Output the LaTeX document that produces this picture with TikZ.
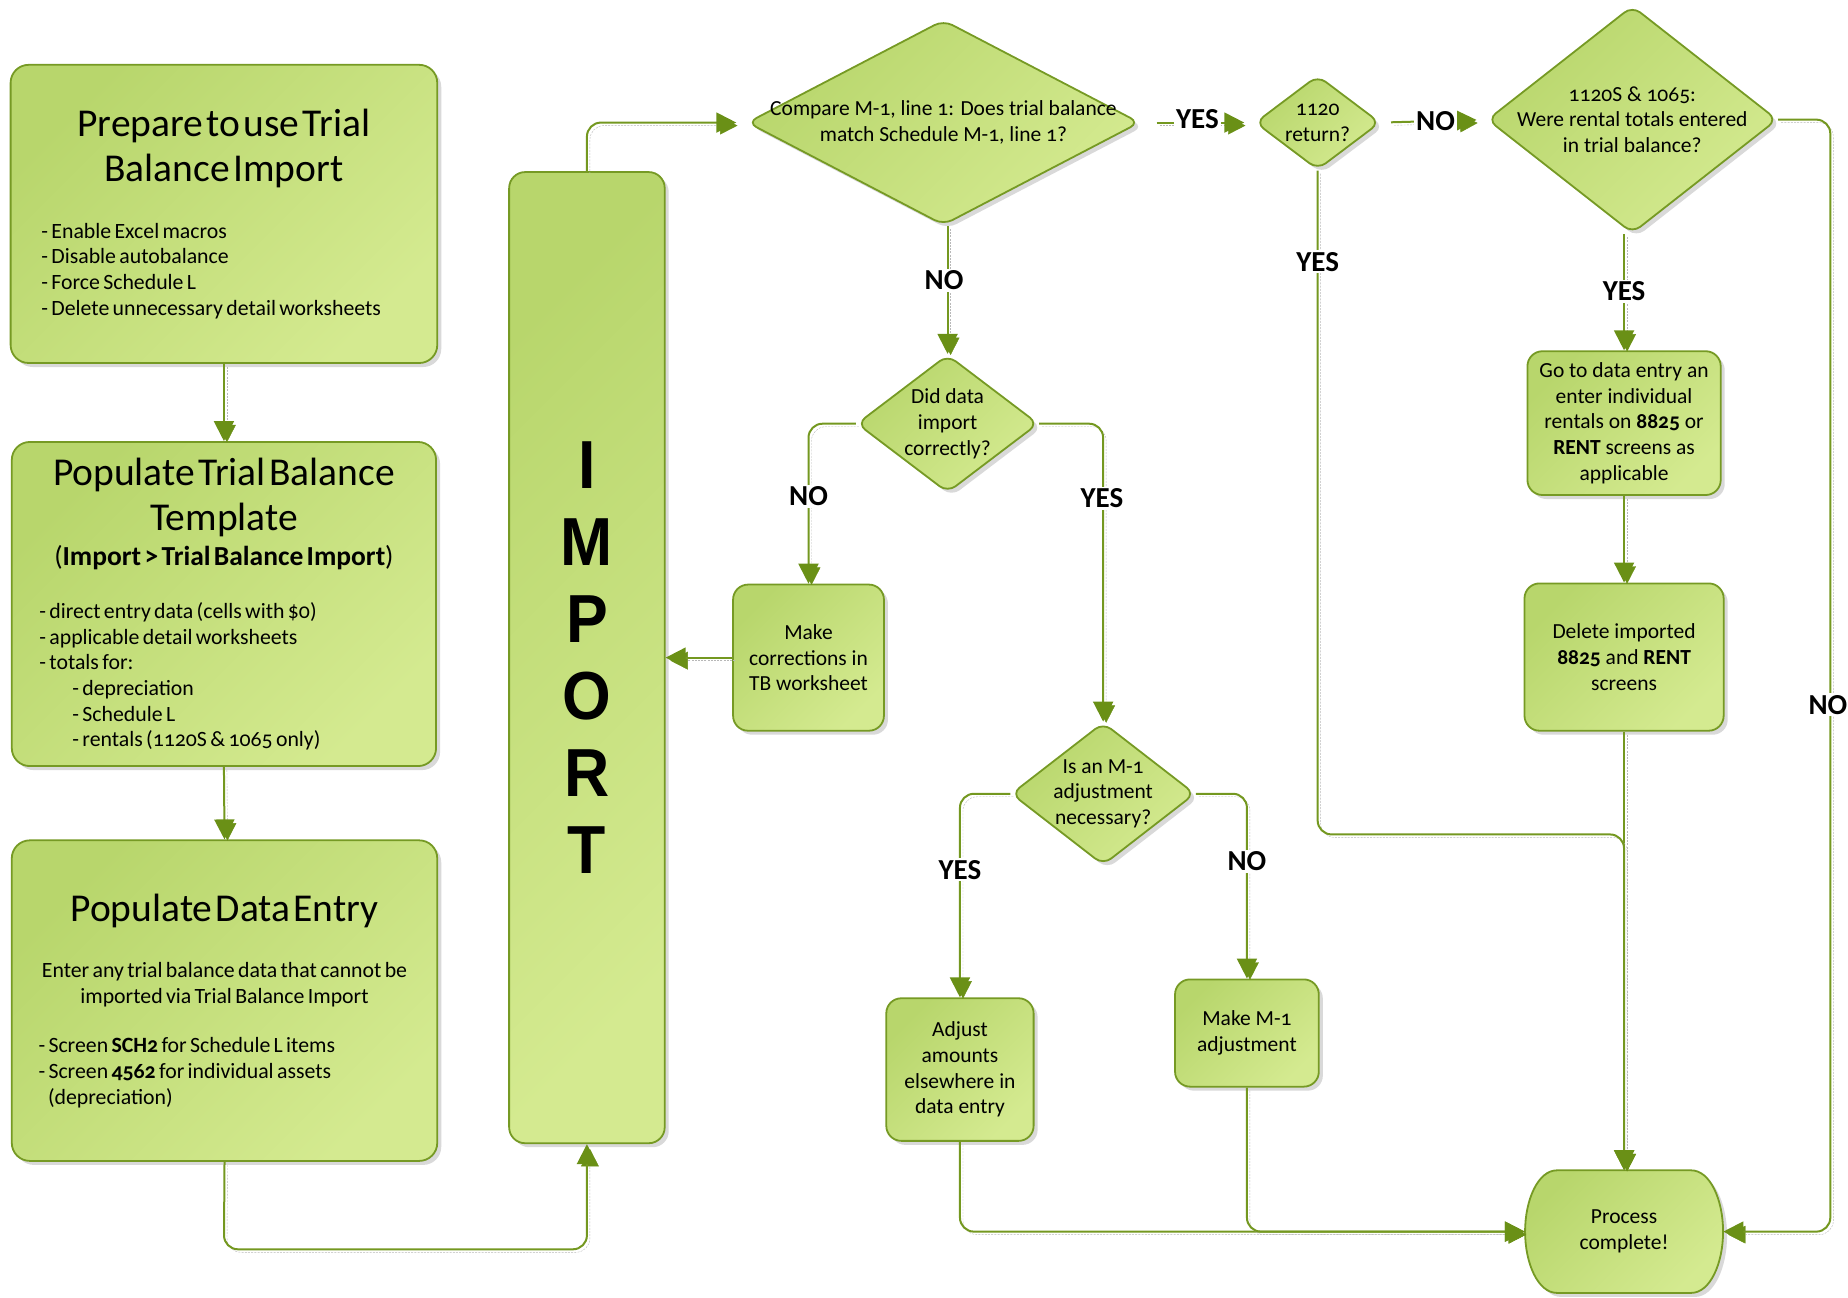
\documentclass[tikz,border=0pt]{standalone}
\usepackage{fontspec}
\setmainfont{Carlito}[Numbers=OldStyle]
\newfontfamily\impfam{Liberation Sans}[FakeStretch=0.92]
\usetikzlibrary{arrows.meta,shapes.geometric,shadows}
\definecolor{gA}{RGB}{184,214,108}
\definecolor{gB}{RGB}{212,234,144}
\definecolor{bd}{RGB}{118,154,36}
\definecolor{ln}{RGB}{116,152,32}
\definecolor{ar}{RGB}{106,144,22}
\newcommand\ttlf{\fontsize{39.5}{45}\selectfont}
\newcommand\bulf{\fontsize{21.8}{25.6}\selectfont}
\newcommand\subf{\fontsize{27.5}{30}\selectfont}
\newcommand\dtxf{\fontsize{21.5}{25.6}\selectfont}
\newcommand\lblf{\fontsize{29}{32}\selectfont\bfseries}
\newcommand\impf{\impfam\bfseries\fontsize{68}{77}\selectfont}
\tikzset{
  sz/.style 2 args={minimum width=#1*1.1786pt, minimum height=#2*1.1786pt},
  gshade/.style={top color=gA, bottom color=gB, shading angle=45},
  shad/.style={drop shadow={shadow xshift=4pt, shadow yshift=-4pt, fill=black!60, opacity=0.25}},
  bigbox/.style={rectangle, rounded corners=18pt, draw=bd, line width=1.8pt, gshade, shad, inner sep=0pt, align=left},
  smbox/.style={rectangle, rounded corners=15pt, draw=bd, line width=1.8pt, gshade, shad, align=center, font=\dtxf, inner sep=0pt},
  dia/.style={diamond, rounded corners=10pt, draw=bd, line width=1.8pt, gshade, shad, inner sep=0pt},
  diatext/.style={align=center, font=\dtxf, inner sep=0pt},
  pcshape/.style={draw=bd, line width=1.8pt, gshade, shad},
  pctext/.style={rectangle, align=center, font=\dtxf, inner sep=0pt},
  lbl/.style={fill=white, inner sep=2pt, font=\lblf},
  conn/.style={draw=ln, line width=2pt, rounded corners=14pt,
    -{Triangle[length=20pt,width=20pt,color=ar]},
    preaction={draw=black!28, dash pattern=on 2pt off 1.2pt, transform canvas={xshift=3pt,yshift=-3pt}}},
}
\begin{document}
\begin{tikzpicture}[x=1.1786pt,y=-1.1786pt]
\useasboundingbox (0,0) rectangle (1568,1101.3);
% big boxes
\node[bigbox, sz={362}{253}, text width=365pt] (b1) at (190,181.5) {%
{\ttlf\centering Prepare to use Trial\\Balance Import\par}\vspace{31pt}%
{\bulf - Enable Excel macros\\- Disable autobalance\\- Force Schedule L\\- Delete unnecessary detail worksheets\par}};
\node[bigbox, sz={360}{275}, text width=369pt] (b2) at (190,512.5) {%
{\ttlf\centering Populate Trial Balance\\Template\par}\vspace{5pt}%
{\subf\centering (\textbf{Import > Trial Balance Import})\par}\vspace{28pt}%
{\bulf - direct entry data (cells with \$0)\\- applicable detail worksheets\\- totals for:\\\hspace*{33pt}- depreciation\\\hspace*{33pt}- Schedule L\\\hspace*{33pt}- rentals (1120S \& 1065 only)\par}};
\node[bigbox, sz={361}{272}, text width=380pt] (b3) at (190.5,849) {%
{\ttlf\centering Populate Data Entry\par}\vspace{31pt}%
{\bulf\centering Enter any trial balance data that cannot be\\imported via Trial Balance Import\par}\vspace{24pt}%
{\bulf\leftskip=4pt - Screen \textbf{SCH2} for Schedule L items\\- Screen \textbf{4562} for individual assets\\\hspace*{9.5pt}(depreciation)\par}};
\node[bigbox, rounded corners=16pt, sz={132}{824}, align=center, font=\impf] (imp) at (498,558) {I\\M\\P\\O\\R\\T};
% diamonds
\node[dia, sz={333}{174}] (d1) at (800.5,104) {};
\node[diatext] (d1t) at (d1) {Compare M-1, line 1: Does trial balance\\match Schedule M-1, line 1?};
\node[dia, sz={106}{80}] (d2) at (1118,104) {};
\node[diatext] (d2t) at (d2) {1120\\return?};
\node[dia, sz={246}{193}] (d3) at (1385,101.5) {};
\node[diatext] (d3t) at (d3) {1120S \& 1065:\\Were rental totals entered\\in trial balance?};
\node[dia, sz={154}{117}] (d4) at (804,359.5) {};
\node[diatext] (d4t) at (d4) {Did data\\import\\correctly?};
\node[dia, sz={156}{121}] (d5) at (936,673.5) {};
\node[diatext] (d5t) at (d5) {Is an M-1\\adjustment\\necessary?};
% small boxes
\node[smbox, sz={128}{124}] (mc) at (686,558) {Make\\corrections in\\TB worksheet};
\node[smbox, sz={164}{122}] (gt) at (1378,359) {Go to data entry an\\enter individual\\rentals on \textbf{8825} or\\\textbf{RENT} screens as\\applicable};
\node[smbox, sz={169}{125}] (del) at (1378,557.5) {Delete imported\\\textbf{8825} and \textbf{RENT}\\screens};
\node[smbox, sz={125}{121}] (adj) at (814.5,907.5) {Adjust\\amounts\\elsewhere in\\data entry};
\node[smbox, sz={122}{91}] (mm1) at (1058,876.5) {Make M-1\\adjustment};
% process complete (barrel shape)
\path[pcshape] (1321,993) -- (1435,993) .. controls (1451,993) and (1462,1018) .. (1462,1045)
  .. controls (1462,1072) and (1451,1097) .. (1435,1097) -- (1321,1097)
  .. controls (1305,1097) and (1294,1072) .. (1294,1045)
  .. controls (1294,1018) and (1305,993) .. (1321,993) -- cycle;
\node[pctext, sz={168}{104}] (pc) at (1378,1045) {Process\\complete!};
% connectors
\coordinate (cb) at (190,1060);
\coordinate (rb) at (1553,1045);
\coordinate (j1) at (1378,708);
\draw[conn] (b1.south) -- (b2.north);
\draw[conn] (b2.south) -- (b3.north);
\draw[conn] (b3.south) -- (cb) -| (imp.south);
\draw[conn, shorten >=10pt] (imp.north) |- (d1.west);
\draw[conn, shorten <=16pt, shorten >=10pt] (d1.east) -- (d2.west);
\draw[conn, shorten <=10pt, shorten >=10pt] (d2.east) -- (d3.west);
\draw[conn] (d3.east) -| (rb) -- (pc.east);
\draw[conn] (gt.north |- d3.south) -- (gt.north);
\draw[conn] (gt.south) -- (del.north);
\draw[conn] (del.south) -- (pc.north);
\draw[conn] (d2.south) |- (j1) -- (pc.north);
\draw[conn] (d4.north |- d1.south) -- (d4.north);
\draw[conn] (d4.west) -| (mc.north);
\draw[conn] (d4.east) -| (d5.north);
\draw[conn] (mc.west) -- (imp.east);
\draw[conn] (d5.west) -| (adj.north);
\draw[conn] (d5.east) -| (mm1.north);
\draw[conn] (adj.south) |- (pc.west);
\draw[conn] (mm1.south) |- (pc.west);
% labels
\node[lbl] (l1) at (1016,101) {YES};
\node[lbl] (l2) at (1218,103) {NO};
\node[lbl] (l3) at (1551,598) {NO};
\node[lbl] (l4) at (1378,247) {YES};
\node[lbl] (l5) at (1118,222) {YES};
\node[lbl] (l6) at (801,238) {NO};
\node[lbl] (l7) at (686,421) {NO};
\node[lbl] (l8) at (935,423) {YES};
\node[lbl] (l9) at (814.5,738) {YES};
\node[lbl] (l10) at (1058,731) {NO};
\end{tikzpicture}
\end{document}
